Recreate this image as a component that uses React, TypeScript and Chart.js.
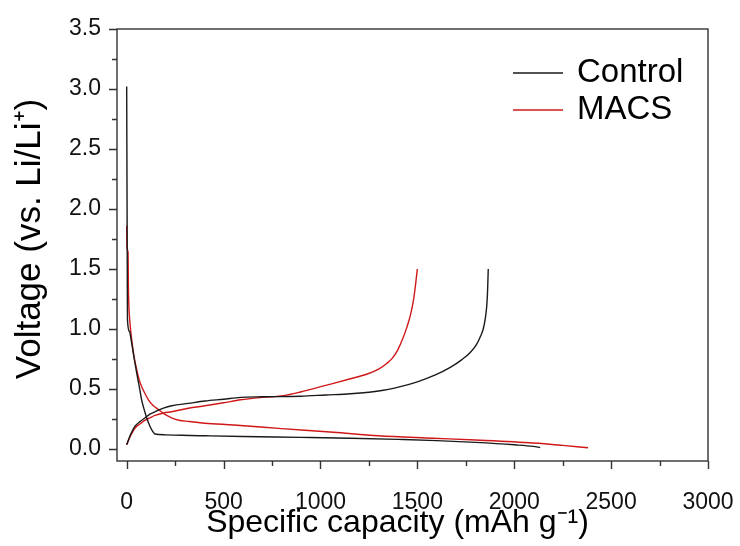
import React, { useEffect, useRef } from "react";
import { Chart, registerables } from "chart.js";

Chart.register(...registerables);

// ---- data ----
const controlDischargeCap = [0, 1, 2, 3, 4, 14, 26, 39, 52, 65, 77, 90, 103, 120, 135, 146, 200, 284, 404, 600, 900, 1155, 1400, 1600, 1800, 2000, 2098, 2134];
const controlDischargeV = [3.02, 2.5, 2.0, 1.5, 1.08, 0.98, 0.88, 0.75, 0.63, 0.52, 0.41, 0.33, 0.26, 0.19, 0.145, 0.125, 0.118, 0.114, 0.11, 0.104, 0.097, 0.09, 0.08, 0.07, 0.055, 0.035, 0.022, 0.012];

const controlChargeCap = [0, 20, 43, 70, 95, 120, 146, 190, 232, 318, 404, 500, 588, 700, 897, 1027, 1155, 1325, 1412, 1500, 1590, 1670, 1730, 1773, 1805, 1825, 1840, 1851, 1858, 1862, 1866];
const controlChargeV = [0.036, 0.12, 0.19, 0.23, 0.26, 0.29, 0.31, 0.34, 0.36, 0.38, 0.4, 0.415, 0.43, 0.435, 0.44, 0.45, 0.46, 0.49, 0.52, 0.56, 0.615, 0.68, 0.745, 0.805, 0.87, 0.935, 1.0, 1.09, 1.19, 1.3, 1.5];

const macsDischargeCap = [0, 1, 7, 9, 11, 17, 26, 38, 52, 64, 77, 95, 112, 135, 163, 195, 232, 270, 318, 404, 552, 800, 1067, 1300, 1582, 1800, 2098, 2250, 2381];
const macsDischargeV = [1.86, 1.68, 1.64, 1.33, 1.2, 1.05, 0.91, 0.77, 0.66, 0.58, 0.52, 0.46, 0.41, 0.365, 0.33, 0.29, 0.26, 0.24, 0.23, 0.215, 0.2, 0.17, 0.14, 0.11, 0.09, 0.075, 0.05, 0.03, 0.01];

const macsChargeCap = [0, 20, 43, 70, 95, 120, 146, 190, 232, 318, 404, 500, 588, 700, 811, 897, 1027, 1155, 1242, 1300, 1340, 1370, 1397, 1425, 1447, 1465, 1480, 1490, 1500];
const macsChargeV = [0.036, 0.11, 0.175, 0.21, 0.24, 0.26, 0.28, 0.3, 0.31, 0.34, 0.36, 0.385, 0.41, 0.43, 0.445, 0.475, 0.53, 0.585, 0.625, 0.665, 0.71, 0.755, 0.82, 0.92, 1.02, 1.12, 1.24, 1.36, 1.5];

const xTickValues = [0, 500, 1000, 1500, 2000, 2500, 3000];
const yTickValues = [0, 0.5, 1.0, 1.5, 2.0, 2.5, 3.0, 3.5];
const legendLabels = ["Control", "MACS"];
const xTitle = "Specific capacity (mAh g⁻¹)";
const yTitle = "Voltage (vs. Li/Li⁺)";

const X_MIN = -50;
const X_MAX = 3000;
const Y_MIN = -0.1;
const Y_MAX = 3.5;
const X_MINOR_STEP = 250;
const Y_MINOR_STEP = 0.25;

const BLACK = "#1a1a1a";
const RED = "#d01818";
const FONT = "'Liberation Sans', Arial, sans-serif";

function toPoints(xs: number[], ys: number[]) {
  return xs.map((x, i) => ({ x, y: ys[i] }));
}

const framePlugin = {
  id: "frameAndLegend",
  afterDraw(chart: any) {
    const { ctx, chartArea, scales } = chart;
    const { left, right, top, bottom } = chartArea;
    const xs = scales.x;
    const ys = scales.y;
    ctx.save();
    ctx.strokeStyle = "#333";
    ctx.lineWidth = 1.4;
    ctx.strokeRect(left, top, right - left, bottom - top);
    ctx.beginPath();
    for (let v = 0; v <= X_MAX + 1e-6; v += X_MINOR_STEP) {
      const px = Math.round(xs.getPixelForValue(v)) + 0.5;
      const major = Math.abs(v % 500) < 1e-6;
      ctx.moveTo(px, bottom);
      ctx.lineTo(px, bottom + (major ? 8 : 5));
    }
    for (let v = 0; v <= Y_MAX + 1e-6; v += Y_MINOR_STEP) {
      const py = Math.round(ys.getPixelForValue(v)) + 0.5;
      const major = Math.abs(v * 2 - Math.round(v * 2)) < 1e-6;
      ctx.moveTo(left, py);
      ctx.lineTo(left - (major ? 8 : 5), py);
    }
    ctx.stroke();

    // axis titles
    ctx.fillStyle = "#000";
    ctx.textBaseline = "middle";
    ctx.textAlign = "center";
    ctx.font = `32px ${FONT}`;
    ctx.fillText(xTitle, left + (right - left) / 2 - 15, bottom + 62);
    ctx.save();
    ctx.translate(30, top + (bottom - top) / 2 - 6);
    ctx.rotate(-Math.PI / 2);
    ctx.font = `35px ${FONT}`;
    ctx.fillText(yTitle, 0, 0);
    ctx.restore();

    // legend
    const colors = [BLACK, RED];
    const rows = [top + 44, top + 81];
    ctx.font = `33px ${FONT}`;
    ctx.textAlign = "left";
    legendLabels.forEach((label, i) => {
      ctx.strokeStyle = colors[i];
      ctx.lineWidth = 1.4;
      ctx.beginPath();
      ctx.moveTo(right - 195, rows[i]);
      ctx.lineTo(right - 145, rows[i]);
      ctx.stroke();
      ctx.fillStyle = "#000";
      ctx.fillText(label, right - 131, rows[i]);
    });
    ctx.restore();
  },
};

export default function App() {
  const ref = useRef<HTMLCanvasElement | null>(null);

  useEffect(() => {
    if (!ref.current) return;
    const ds = (label: string, xs: number[], ys: number[], color: string) => ({
      label,
      data: toPoints(xs, ys),
      borderColor: color,
      backgroundColor: color,
      borderWidth: 1.4,
      pointRadius: 0,
      cubicInterpolationMode: "monotone" as const,
      fill: false,
    });
    const chart = new Chart(ref.current, {
      type: "line",
      data: {
        datasets: [
          ds("Control", controlDischargeCap, controlDischargeV, BLACK),
          ds("Control", controlChargeCap, controlChargeV, BLACK),
          ds("MACS", macsDischargeCap, macsDischargeV, RED),
          ds("MACS", macsChargeCap, macsChargeV, RED),
        ],
      },
      options: {
        responsive: false,
        animation: false,
        layout: { padding: { top: 29, right: 32, left: 0, bottom: 0 } },
        plugins: { legend: { display: false }, tooltip: { enabled: false } },
        scales: {
          x: {
            type: "linear",
            min: X_MIN,
            max: X_MAX,
            grid: { display: false, drawTicks: false },
            border: { display: false },
            afterBuildTicks: (s: any) => {
              s.ticks = xTickValues.map((v) => ({ value: v }));
            },
            afterFit: (s: any) => {
              s.height = 85;
              s.paddingLeft = 0;
              s.paddingRight = 0;
            },
            ticks: {
              color: "#111",
              padding: 28,
              maxRotation: 0,
              autoSkip: false,
              font: { family: FONT, size: 23 },
              callback: (v: any) => String(v),
            },
          },
          y: {
            type: "linear",
            min: Y_MIN,
            max: Y_MAX,
            grid: { display: false, drawTicks: false },
            border: { display: false },
            afterBuildTicks: (s: any) => {
              s.ticks = yTickValues.map((v) => ({ value: v }));
            },
            afterFit: (s: any) => {
              s.width = 117;
              s.paddingTop = 0;
              s.paddingBottom = 0;
            },
            ticks: {
              color: "#111",
              padding: 16,
              autoSkip: false,
              font: { family: FONT, size: 23 },
              callback: (v: any) => Number(v).toFixed(1),
            },
          },
        },
      },
      plugins: [framePlugin],
    });
    return () => chart.destroy();
  }, []);

  return (
    <div style={{ position: "fixed", left: 0, top: 0, width: 740, height: 546, background: "#fff" }}>
      <canvas ref={ref} width={740} height={546} style={{ width: 740, height: 546 }} />
    </div>
  );
}
